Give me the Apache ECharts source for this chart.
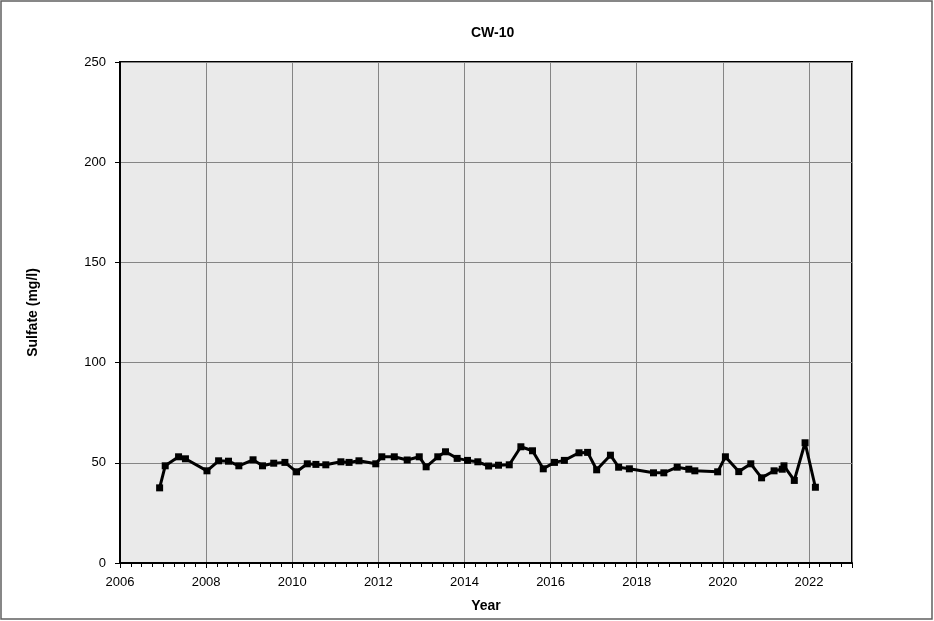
<!DOCTYPE html>
<html>
<head>
<meta charset="utf-8">
<script src="https://cdn.jsdelivr.net/npm/echarts@6/dist/echarts.min.js"></script>
<style>html,body{margin:0;padding:0;background:#fff;}#c{width:934px;height:621px;}</style>
</head>
<body>
<div id="c"></div>
<script>
const years = [2006.92,2007.05,2007.36,2007.52,2008.02,2008.29,2008.52,2008.76,2009.09,2009.31,2009.57,2009.83,2010.10,2010.35,2010.55,2010.78,2011.13,2011.32,2011.55,2011.94,2012.08,2012.37,2012.67,2012.95,2013.11,2013.38,2013.56,2013.83,2014.07,2014.31,2014.56,2014.79,2015.04,2015.31,2015.58,2015.83,2016.09,2016.32,2016.66,2016.86,2017.07,2017.39,2017.58,2017.83,2018.39,2018.63,2018.94,2019.21,2019.35,2019.88,2020.06,2020.37,2020.65,2020.90,2021.19,2021.38,2021.42,2021.66,2021.91,2022.15];
const sulfate = [37.5,48.5,53,52,46,51,50.8,48.5,51.5,48.5,49.8,50.2,45.5,49.5,49.2,49,50.5,50.2,51,49.5,53,53,51.4,53,48,53,55.5,52.2,51.2,50.5,48.4,48.8,49,58,56,47,50.2,51.2,55,55.2,46.5,53.8,47.8,47,45,45,47.8,46.8,46,45.5,53,45.6,49.5,42.5,46,46.8,48.5,41.2,60,37.8];
const yTicks = [0,50,100,150,200,250];
const xLabelYears = [2006,2008,2010,2012,2014,2016,2018,2020,2022];

const chart = echarts.init(document.getElementById('c'));
const font = 'Liberation Sans, Arial, sans-serif';
chart.setOption({
  animation: false,
  title: {text: 'CW-10', left: 466, top: 21,
    textStyle: {fontFamily: font, fontSize: 14, fontWeight: 'bold', color: '#000'}},
  graphic: [{type: 'rect', shape: {x: 1, y: 1, width: 931, height: 618},
    style: {fill: 'none', stroke: '#606060', lineWidth: 1.5}, silent: true}],
  grid: {left: 120, right: 82, top: 62, bottom: 58, show: true,
    backgroundColor: '#eaeaea', borderColor: '#000', borderWidth: 2},
  xAxis: [{
    type: 'value', min: 2006, max: 2023, interval: 2,
    name: 'Year', nameLocation: 'middle', nameGap: 36,
    nameTextStyle: {fontFamily: font, fontSize: 14, fontWeight: 'bold', color: '#000'},
    axisLine: {show: true, lineStyle: {color: '#000', width: 2}},
    axisTick: {show: true, length: 5, lineStyle: {color: '#000'}},
    axisLabel: {fontFamily: font, fontSize: 13, color: '#000', margin: 13,
      formatter: v => xLabelYears.indexOf(Math.round(v)) >= 0 && Math.abs(v - Math.round(v)) < 1e-6 ? String(Math.round(v)) : ''},
    splitLine: {show: true, lineStyle: {color: '#858585', width: 1}}
  }, {
    type: 'value', min: 2006, max: 2023, interval: 0.25, position: 'bottom',
    axisLine: {show: false}, axisLabel: {show: false}, splitLine: {show: false},
    axisTick: {show: true, length: 4, lineStyle: {color: '#000'}}
  }],
  yAxis: {
    type: 'value', min: 0, max: 250, interval: 50,
    name: 'Sulfate (mg/l)', nameLocation: 'middle', nameGap: 80,
    nameTextStyle: {fontFamily: font, fontSize: 14, fontWeight: 'bold', color: '#000'},
    axisLine: {show: true, lineStyle: {color: '#000', width: 2}},
    axisTick: {show: true, length: 5, lineStyle: {color: '#000'}},
    axisLabel: {fontFamily: font, fontSize: 13, color: '#000', margin: 14,
      formatter: v => yTicks.indexOf(v) >= 0 ? String(v) : ''},
    splitLine: {show: true, lineStyle: {color: '#858585', width: 1}}
  },
  series: [{
    type: 'line', xAxisIndex: 0,
    data: years.map((y, i) => [y, sulfate[i]]),
    symbol: 'rect', symbolSize: 7,
    lineStyle: {color: '#000', width: 3},
    itemStyle: {color: '#000'}
  }]
});
</script>
</body>
</html>
